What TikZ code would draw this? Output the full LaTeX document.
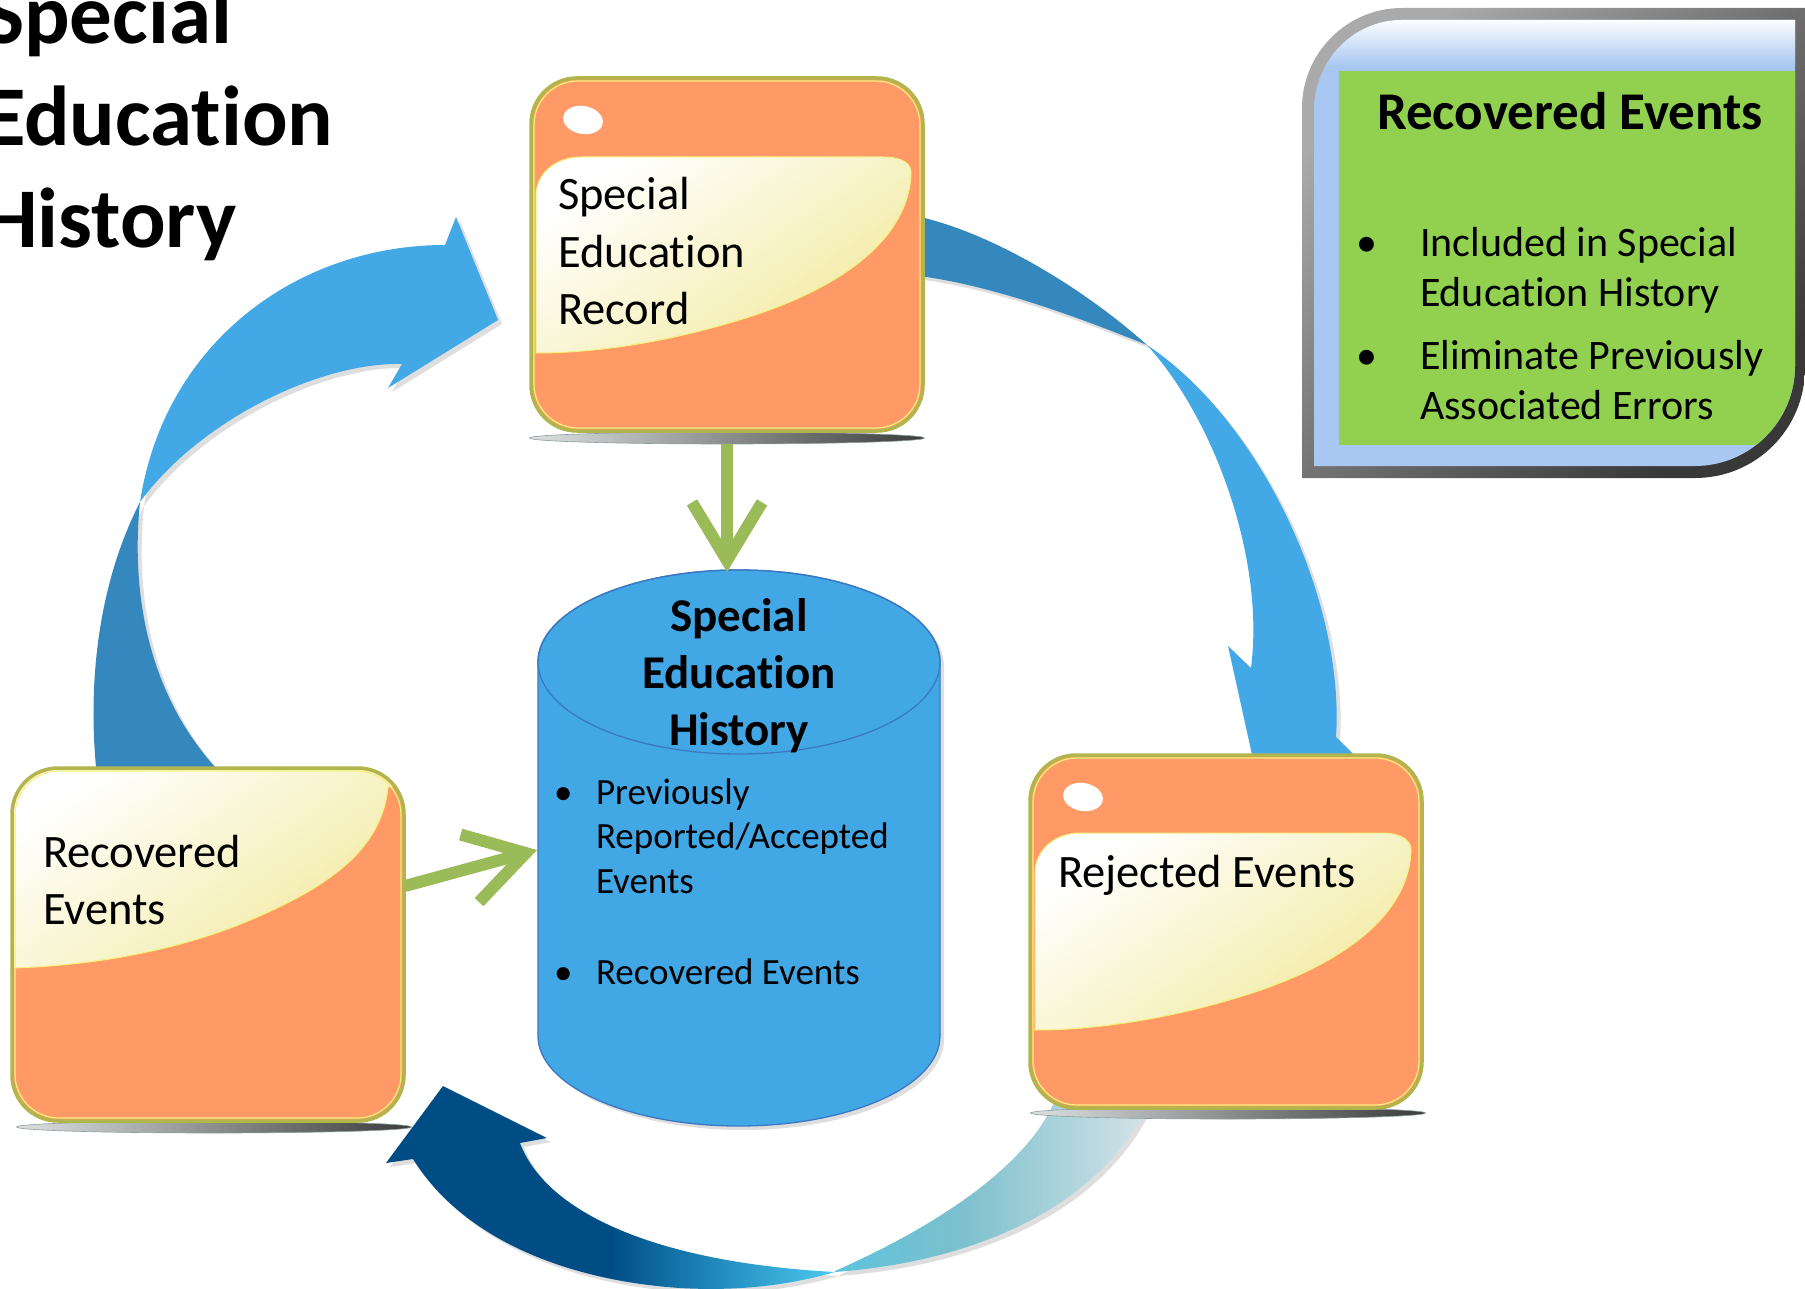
\documentclass[tikz,border=0pt]{standalone}
\usepackage{fontspec}
\setmainfont{Carlito}[Ligatures=NoCommon]
\usetikzlibrary{calc,arrows.meta,shapes.geometric}
\definecolor{boxOrange}{HTML}{FF9966}
\definecolor{boxOlive}{HTML}{B2B44C}
\definecolor{boxYellow}{HTML}{F2F27C}
\definecolor{glossY}{HTML}{F2EA9E}
\definecolor{bigL}{HTML}{42A8E6}
\definecolor{bigD}{HTML}{3588BD}
\definecolor{bNavy}{HTML}{004D86}
\definecolor{bMid}{HTML}{2590C2}
\definecolor{bCyan}{HTML}{4DC9EE}
\definecolor{lA}{HTML}{5EC3DC}
\definecolor{lB}{HTML}{7CC0CD}
\definecolor{lC}{HTML}{D5E4E8}
\definecolor{cylFill}{HTML}{42A7E5}
\definecolor{cylLine}{HTML}{3B78C2}
\definecolor{greenA}{HTML}{9BBB59}
\definecolor{infoGreen}{HTML}{92D050}
\definecolor{infoBlue}{HTML}{A8C8F1}
\definecolor{frameL}{HTML}{AAAAAA}
\definecolor{frameD}{HTML}{383838}
\definecolor{shL}{HTML}{DCE0E0}
\definecolor{shD}{HTML}{3C3C3C}
\definecolor{shE}{HTML}{8C9C9C}
\pgfdeclarehorizontalshading{botdarksh}{100bp}{color(0bp)=(bNavy); color(25bp)=(bNavy); color(50bp)=(bNavy); color(63bp)=(bMid); color(75bp)=(bCyan); color(100bp)=(bCyan)}
\pgfdeclarehorizontalshading{botlightsh}{100bp}{color(0bp)=(lA); color(25bp)=(lA); color(45bp)=(lB); color(75bp)=(lC); color(100bp)=(lC)}
\newcommand{\boxfont}{\fontsize{46.5}{57.5}\selectfont}
\begin{document}
\begin{tikzpicture}[x=1pt,y=-1pt,
  ebox/.style={rectangle, rounded corners=46pt, fill=boxOrange, draw=boxOlive, line width=3.5pt, outer sep=0pt, inner sep=0pt, anchor=north west, minimum width=392pt, minimum height=353pt},
  shadowell/.style={ellipse, left color=shL, right color=shD, draw=shE, line width=0.6pt, inner sep=0pt, minimum width=395pt, minimum height=12pt},
  glossfill/.style={shading=axis, top color=white, bottom color=glossY, shading angle=35, draw=boxYellow, line width=1pt},
  softshadow/.style={preaction={fill=black!13, transform canvas={shift={(4pt,-4pt)}}}},
  garrow/.style={draw=greenA, line width=12pt, -{Straight Barb[length=58pt, width=70pt]}},
  txt/.style={inner sep=0pt, outer sep=0pt}]
\useasboundingbox (0,0) rectangle (1805,1289);
\clip (0,0) rectangle (1805,1289);

% ---- big curved arrow, left (Recovered -> Record)
\fill[bigD, softshadow] (140,502) .. controls (130,600) and (150,720) .. (250,800) -- (100,800) .. controls (85,700) and (95,590) .. (140,502) -- cycle;
\fill[bigL, softshadow] (140,502) .. controls (165,340) and (300,245) .. (445,245) -- (456,217) -- (498,320) -- (388,388) -- (402,364) .. controls (320,362) and (200,420) .. (140,502) -- cycle;

% ---- big curved arrow, right (Record -> Rejected)
\fill[bigD, softshadow] (900,213) .. controls (980,225) and (1080,285) .. (1147,345) .. controls (1080,318) and (980,280) .. (900,274) -- cycle;
\fill[bigL, softshadow] (1147,345) .. controls (1260,420) and (1345,600) .. (1336,737) -- (1353,754) -- (1262,800) -- (1228,646) -- (1251,668) .. controls (1265,560) and (1215,420) .. (1147,345) -- cycle;

% ---- bottom curved arrow (Rejected -> Recovered)
\path[shading=botdarksh, softshadow] (835,1272) .. controls (800,1282) and (750,1292) .. (680,1288) .. controls (560,1280) and (460,1235) .. (413,1159) -- (386,1163) -- (443,1086) -- (547,1138) -- (520,1143) .. controls (545,1210) and (650,1262) .. (835,1272) -- cycle;
\path[shading=botlightsh, softshadow] (835,1272) .. controls (970,1262) and (1100,1210) .. (1150,1100) -- (1055,1100) .. controls (1030,1160) and (950,1220) .. (835,1271) -- cycle;

% ---- shadows under boxes
\node[shadowell] (topsh) at (727,438) {};
\node[shadowell] (leftsh) at (214,1127) {};
\node[shadowell] (rightsh) at (1228,1113) {};

% ---- top box: Special Education Record
\node[ebox] (topbox) at (531,78) {};
\begin{scope}[shift={(topbox.north west)}]
  \path[glossfill] (5,275) -- (5,118) .. controls (5,95) and (25,79) .. (50,79) -- (352,79) .. controls (370,79) and (381,85) .. (380,96) .. controls (378,150) and (330,200) .. (230,235) .. controls (150,262) and (70,275) .. (5,275) -- cycle;
  \fill[white, rotate around={-10:(52,42)}] (52,42) ellipse [x radius=20, y radius=14];
\end{scope}
\draw[boxYellow, line width=1.2pt, rounded corners=44pt] ($(topbox.north west)+(3,3)$) rectangle ($(topbox.south east)+(-3,-3)$);
\node[txt, anchor=base west] (toptext) at (558,210) {\parbox[t]{340pt}{\raggedright\boxfont Special\\Education\\Record}};

% ---- left box: Recovered Events
\node[ebox] (leftbox) at (12,768) {};
\begin{scope}[shift={(leftbox.north west)}]
  \clip[rounded corners=44pt] (2,2) rectangle (390,351);
  \path[shading=axis, top color=white, bottom color=glossY, shading angle=35] (376,19) .. controls (370,80) and (320,120) .. (221,159) .. controls (150,186) and (70,198) .. (0,200) -- (-5,200) -- (-5,-5) -- (400,-5) -- (400,19) -- cycle;
  \draw[boxYellow, line width=1pt] (376,19) .. controls (370,80) and (320,120) .. (221,159) .. controls (150,186) and (70,198) .. (0,200);
\end{scope}
\draw[boxYellow, line width=1.2pt, rounded corners=44pt] ($(leftbox.north west)+(3,3)$) rectangle ($(leftbox.south east)+(-3,-3)$);
\node[txt, anchor=base west] (lefttext) at (43,867) {\parbox[t]{340pt}{\raggedright\boxfont Recovered\\Events}};

% ---- right box: Rejected Events
\node[ebox] (rightbox) at (1030,755) {};
\begin{scope}[shift={(rightbox.north west)}]
  \path[glossfill] (5,275) -- (5,118) .. controls (5,95) and (25,78) .. (50,78) -- (352,78) .. controls (370,78) and (382,85) .. (381,96) .. controls (379,150) and (331,200) .. (231,235) .. controls (151,262) and (71,275) .. (5,275) -- cycle;
  \fill[white, rotate around={-10:(53,42)}] (53,42) ellipse [x radius=20, y radius=14];
\end{scope}
\draw[boxYellow, line width=1.2pt, rounded corners=44pt] ($(rightbox.north west)+(3,3)$) rectangle ($(rightbox.south east)+(-3,-3)$);
\node[txt, anchor=base west] (righttext) at (1058,887) {\boxfont Rejected Events};

% ---- cylinder: Special Education History
\coordinate (cylC) at (739,662);
\fill[cylFill, draw=cylLine, line width=1.3pt, softshadow] (538,662) -- (538,1036) arc[start angle=180, end angle=0, x radius=201, y radius=90] -- (940,662) arc[start angle=0, end angle=-180, x radius=201, y radius=92] -- cycle;
\draw[cylLine, line width=1.3pt] (cylC) ellipse [x radius=201, y radius=92];
\coordinate (cyltop) at (727,572);
\coordinate (cylW) at (537,850);
\node[txt, anchor=base] (cyltitle) at (739,631) {\parbox[t]{380pt}{\centering\bfseries\fontsize{47}{57}\selectfont Special\\Education\\History}};
\node[txt, anchor=base west] (cb1) at (554,804) {\fontsize{37}{44}\selectfont\textbullet};
\node[txt, anchor=base west] (ct1) at (596,804) {\parbox[t]{340pt}{\raggedright\fontsize{37}{44.5}\selectfont Previously\\Reported/Accepted\\Events}};
\node[txt, anchor=base west] (cb2) at (554,984) {\fontsize{37}{44}\selectfont\textbullet};
\node[txt, anchor=base west] (ct2) at (596,984) {\fontsize{37}{44}\selectfont Recovered Events};

% ---- green arrows
\draw[garrow] (topsh.south) -- (cyltop);
\coordinate (lga) at (405,886);
\draw[garrow] (lga) -- (cylW);

% ---- info box
\path[shading=axis, top color=frameL, bottom color=frameD, shading angle=45] (1302,478) -- (1302,108) .. controls (1302,53) and (1347,8) .. (1402,8) -- (1805,8) -- (1805,368) .. controls (1805,429) and (1756,478) .. (1695,478) -- cycle;
\begin{scope}
  \clip (1314,466) -- (1314,110) .. controls (1314,61) and (1353,20) .. (1402,20) -- (1795,20) -- (1795,366) .. controls (1795,421) and (1750,466) .. (1695,466) -- cycle;
  \fill[infoBlue] (1300,0) rectangle (1805,480);
  \path[shading=axis, top color=white, bottom color=infoBlue] (1300,18) rectangle (1805,66);
  \fill[infoGreen] (1339,71) rectangle (1800,445);
\end{scope}
\node[txt, anchor=base west] (infotitle) at (1377,130) {\bfseries\fontsize{53}{62}\selectfont Recovered Events};
\node[txt, anchor=base west] (ib1) at (1356,257) {\fontsize{42}{50}\selectfont\textbullet};
\node[txt, anchor=base west] (it1) at (1420,257) {\parbox[t]{380pt}{\raggedright\fontsize{42}{50}\selectfont Included in Special\\Education History}};
\node[txt, anchor=base west] (ib2) at (1356,370) {\fontsize{42}{50}\selectfont\textbullet};
\node[txt, anchor=base west] (it2) at (1420,370) {\parbox[t]{380pt}{\raggedright\fontsize{42}{50}\selectfont Eliminate Previously\\Associated Errors}};

% ---- page title
\node[txt, anchor=base west] (title) at (-16,44) {\parbox[t]{500pt}{\raggedright\bfseries\fontsize{85}{102}\selectfont Special\\Education\\History}};
\end{tikzpicture}
\end{document}
